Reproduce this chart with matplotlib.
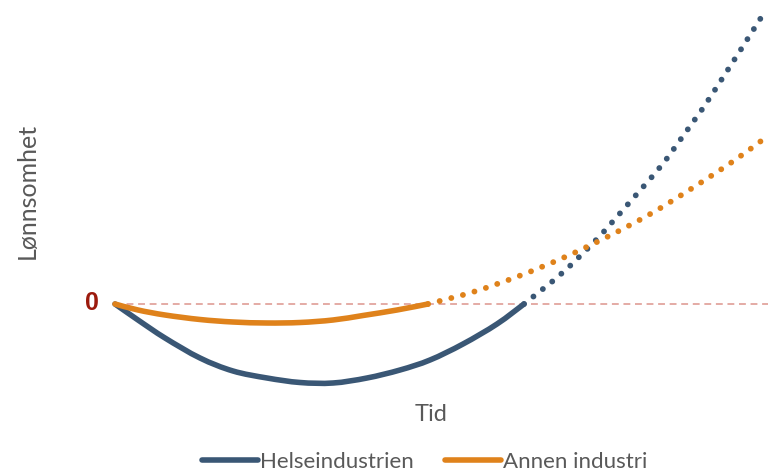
import matplotlib.pyplot as plt
from matplotlib.path import Path
from matplotlib.patches import PathPatch
from matplotlib.lines import Line2D

plt.rcParams['font.family'] = ['Lato', 'DejaVu Sans']

# ----------------------------
# Data (time units, profitability units)
# ----------------------------
helse_t = [0, 0.46, 1.0, 1.7, 2.36, 3.04, 3.7, 4.36, 5.04, 5.7, 6.3, 6.96, 7.64, 8.18]
helse_v = [0, -1.6, -3.4, -5.4, -6.7, -7.4, -7.85, -7.9, -7.4, -6.6, -5.6, -4.0, -2.0, 0]
helse_fut_t = [8.18, 8.92, 9.62, 10.28, 10.92, 11.36, 11.92, 12.98]
helse_fut_v = [0, 3.0, 6.4, 10.1, 13.8, 16.8, 20.8, 29.1]

annen_t = [0, 0.46, 1.0, 1.7, 2.36, 3.04, 3.7, 4.36, 4.96, 5.64, 6.26]
annen_v = [0, -0.6, -1.1, -1.55, -1.8, -1.9, -1.85, -1.6, -1.15, -0.6, 0]
annen_fut_t = [6.26, 7.16, 8.08, 9.0, 9.88, 10.74, 11.58, 12.4, 13.0]
annen_fut_v = [0, 1.2, 2.8, 4.7, 6.8, 9.1, 11.7, 14.4, 16.6]

labels = ["Helseindustrien", "Annen industri"]

BLUE = "#3A5775"
ORANGE = "#DF821B"
GREY = "#595959"


def smooth_path(xs, ys):
    # catmull-rom through the points, as cubic bezier segments
    pts = list(zip(xs, ys))
    verts = [pts[0]]
    codes = [Path.MOVETO]
    for i in range(len(pts) - 1):
        p0 = pts[max(i - 1, 0)]
        p1 = pts[i]
        p2 = pts[i + 1]
        p3 = pts[min(i + 2, len(pts) - 1)]
        c1 = (p1[0] + (p2[0] - p0[0]) / 6, p1[1] + (p2[1] - p0[1]) / 6)
        c2 = (p2[0] - (p3[0] - p1[0]) / 6, p2[1] - (p3[1] - p1[1]) / 6)
        verts += [c1, c2, p2]
        codes += [Path.CURVE4] * 3
    return Path(verts, codes)


def draw_curve(ax, xs, ys, color, dotted=False, z=3):
    if dotted:
        style = dict(lw=4.2, ls=(0, (0.01, 2.05)))
    else:
        style = dict(lw=4.0, ls="-")
    patch = PathPatch(smooth_path(xs, ys), fill=False, edgecolor=color,
                      capstyle="round", joinstyle="round", zorder=z, **style)
    ax.add_patch(patch)


fig = plt.figure(figsize=(7.68, 4.73), dpi=100)
ax = fig.add_axes([0, 0, 1, 1])
ax.set_xlim(-2.3, 13.06)
ax.set_ylim(-16.9, 30.4)
ax.axis("off")

# zero line
ax.axhline(0, xmin=0.15, color="#E2A59E", lw=1.3, ls=(0, (3.8, 2.6)), zorder=1)

draw_curve(ax, helse_t, helse_v, BLUE, z=3)
draw_curve(ax, helse_fut_t, helse_fut_v, BLUE, dotted=True, z=3)
draw_curve(ax, annen_t, annen_v, ORANGE, z=4)
draw_curve(ax, annen_fut_t, annen_fut_v, ORANGE, dotted=True, z=4)

ax.text(-0.33, 0.15, "0", color="#9C1A0D", fontsize=18, fontweight="bold",
        family="Liberation Sans", ha="right", va="center")
ax.text(0.035, 0.596, "Lønnsomhet", transform=ax.transAxes, rotation=90,
        color=GREY, fontsize=18, ha="center", va="center")
ax.text(0.561, 0.123, "Tid", transform=ax.transAxes, color=GREY, fontsize=17,
        ha="center", va="center")

handles = [Line2D([], [], color=BLUE, lw=4.0, solid_capstyle="round"),
           Line2D([], [], color=ORANGE, lw=4.0, solid_capstyle="round")]
leg = ax.legend(handles, labels, loc="center", bbox_to_anchor=(0.553, 0.023), ncol=2,
                frameon=False, fontsize=16, handlelength=2.5, handletextpad=0.1,
                columnspacing=1.4)
for txt in leg.get_texts():
    txt.set_color(GREY)

fig.savefig("out.png", dpi=100)
